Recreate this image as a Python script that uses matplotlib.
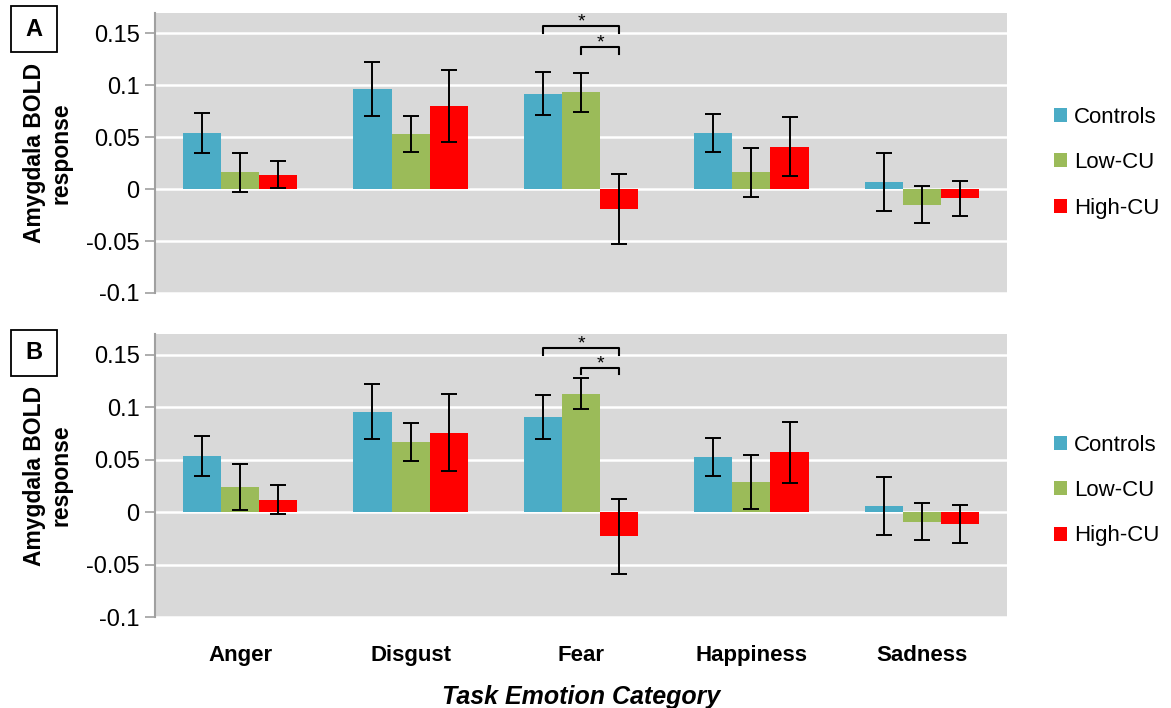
import matplotlib
matplotlib.use("Agg")
import matplotlib.pyplot as plt
from matplotlib.patches import Patch, Rectangle
import numpy as np

plt.rcParams['font.family'] = ['Liberation Sans', 'DejaVu Sans']

categories = ["Anger", "Disgust", "Fear", "Happiness", "Sadness"]
groups = ["Controls", "Low-CU", "High-CU"]
colors = ["#4BACC6", "#9BBB59", "#FF0000"]

# Panel A
a_controls = [0.054, 0.096, 0.092, 0.054, 0.007]
a_low = [0.016, 0.053, 0.093, 0.016, -0.015]
a_high = [0.014, 0.080, -0.019, 0.041, -0.009]
a_controls_err = [0.019, 0.026, 0.021, 0.018, 0.028]
a_low_err = [0.019, 0.017, 0.019, 0.024, 0.018]
a_high_err = [0.013, 0.035, 0.034, 0.028, 0.017]

# Panel B
b_controls = [0.054, 0.096, 0.091, 0.053, 0.006]
b_low = [0.024, 0.067, 0.113, 0.029, -0.009]
b_high = [0.012, 0.076, -0.023, 0.057, -0.011]
b_controls_err = [0.019, 0.026, 0.021, 0.018, 0.028]
b_low_err = [0.022, 0.018, 0.015, 0.026, 0.018]
b_high_err = [0.014, 0.037, 0.036, 0.029, 0.018]

y_ticks = [-0.1, -0.05, 0, 0.05, 0.1, 0.15]
y_tick_labels = ["-0.1", "-0.05", "0", "0.05", "0.1", "0.15"]

# significance brackets: (group index from, group index to, y level, tick bottom)
a_brackets = [(0, 2, 0.157, 0.150), (1, 2, 0.137, 0.1305)]
b_brackets = [(0, 2, 0.157, 0.150), (1, 2, 0.138, 0.1316)]
sig_category = 2

W, H = 1171, 708
fig = plt.figure(figsize=(W / 100, H / 100), dpi=100)

bar_w = 0.224


def fig_rect(x0, y0, x1, y1):
    return [x0 / W, 1 - y1 / H, (x1 - x0) / W, (y1 - y0) / H]


def draw_panel(ax, vals, errs, brackets, letter, box_y, show_x, leg_y):
    x = np.arange(len(categories))
    ax.set_facecolor("#D9D9D9")
    for i, (v, e, c, g) in enumerate(zip(vals, errs, colors, groups)):
        pos = x + (i - 1) * bar_w
        ax.bar(pos, v, width=bar_w, color=c, label=g, zorder=2)
        ax.errorbar(pos, v, yerr=e, fmt="none", ecolor="black",
                    elinewidth=1.4, capsize=5.5, capthick=1.4, zorder=3)
    ax.set_xlim(-0.5, 4.5)
    ax.set_ylim(-0.1, 0.17)
    ax.set_yticks(y_ticks)
    ax.set_yticklabels(y_tick_labels, fontsize=17)
    ax.yaxis.grid(True, color="white", linewidth=1.8)
    ax.set_axisbelow(True)
    for s in ["top", "right", "bottom"]:
        ax.spines[s].set_visible(False)
    ax.spines["left"].set_color("#A0A0A0")
    ax.spines["left"].set_linewidth(1.5)
    ax.tick_params(axis="y", length=7, width=1.2, color="#A0A0A0", pad=4)
    ax.tick_params(axis="x", length=0)
    if show_x:
        ax.set_xticks(x)
        ax.set_xticklabels(categories, fontsize=16, fontweight="bold")
        ax.tick_params(axis="x", pad=20)
        ax.set_xlabel("Task Emotion Category", fontsize=18, fontweight="bold",
                      style="italic", labelpad=14)
    else:
        ax.set_xticks([])
    ax.set_ylabel("Amygdala BOLD\nresponse", fontsize=16.5, fontweight="bold",
                  linespacing=1.2, labelpad=10)
    # brackets
    for g0, g1, yl, yb in brackets:
        x0 = sig_category + (g0 - 1) * bar_w
        x1 = sig_category + (g1 - 1) * bar_w
        ax.plot([x0, x0, x1, x1], [yb, yl, yl, yb], color="black",
                linewidth=1.5, clip_on=False, zorder=4)
        ax.text((x0 + x1) / 2, yl - 0.0045, "*", ha="center", va="bottom",
                fontsize=14, clip_on=False)
    # panel letter box
    fig.patches.append(Rectangle((11 / W, 1 - (box_y + 46) / H), 46 / W, 46 / H,
                                 transform=fig.transFigure, fill=False,
                                 edgecolor="black", linewidth=1.3))
    fig.text(34 / W, 1 - (box_y + 23) / H, letter, ha="center", va="center",
             fontsize=17, fontweight="bold")
    handles = [Patch(facecolor=c, edgecolor="none", label=g) for c, g in zip(colors, groups)]
    ax.legend(handles=handles, loc="center left", bbox_to_anchor=(1.055, leg_y),
              frameon=False, fontsize=16, handlelength=0.6, handleheight=0.6,
              handletextpad=0.3, labelspacing=1.1, borderpad=0, borderaxespad=0)


axA = fig.add_axes(fig_rect(155, 12.5, 1007, 293))
draw_panel(axA, [a_controls, a_low, a_high], [a_controls_err, a_low_err, a_high_err],
           a_brackets, "A", 6, False, 0.465)

axB = fig.add_axes(fig_rect(155, 334, 1007, 617))
draw_panel(axB, [b_controls, b_low, b_high], [b_controls_err, b_low_err, b_high_err],
           b_brackets, "B", 330, True, 0.447)

fig.savefig("out.png", dpi=100)
